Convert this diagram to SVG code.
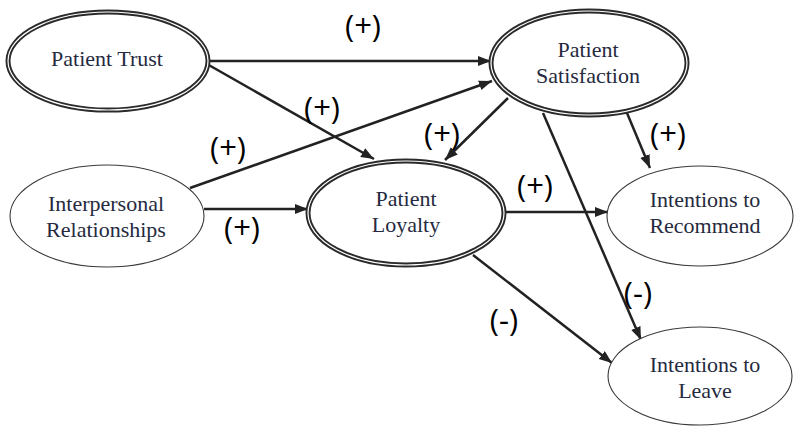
<svg xmlns="http://www.w3.org/2000/svg" width="794" height="427" viewBox="0 0 794 427">
<style>
.bg{fill:#ffffff}
.dbl{fill:#ffffff;stroke:#2a2a2a;stroke-width:5}
.dbl-in{fill:none;stroke:#ffffff;stroke-width:1.2}
.sgl{fill:#ffffff;stroke:#3a3a3a;stroke-width:1.1}
.nt{font-family:"Liberation Serif","Times New Roman",serif;font-size:22px;fill:#252a40;text-anchor:middle}
.conn{stroke:#222222;stroke-width:2.5;fill:none;marker-end:url(#ah)}
.lbl{font-family:"Open Sans","Noto Sans",sans-serif;font-size:31px;fill:#000000;text-anchor:middle}
</style>
<defs>
<marker id="ah" markerUnits="userSpaceOnUse" markerWidth="14" markerHeight="12" refX="13" refY="5" orient="auto">
<path d="M0,0 L13,5 L0,10 z" fill="#222222"/>
</marker>
</defs>
<rect class="bg" x="0" y="0" width="794" height="427"/>
<g id="connectors">
<line class="conn" x1="210" y1="61" x2="491" y2="61"/>
<line class="conn" x1="207" y1="64" x2="374" y2="159"/>
<line class="conn" x1="190" y1="188" x2="492" y2="81"/>
<line class="conn" x1="204" y1="209" x2="308" y2="209"/>
<line class="conn" x1="508" y1="98" x2="445" y2="160"/>
<line class="conn" x1="627" y1="113" x2="650" y2="168"/>
<line class="conn" x1="543" y1="113" x2="641" y2="340"/>
<line class="conn" x1="505" y1="212" x2="608" y2="212"/>
<line class="conn" x1="473" y1="255" x2="612" y2="363"/>
</g>
<g id="patient-trust">
<ellipse class="dbl" cx="108" cy="61" rx="100" ry="49"/>
<ellipse class="dbl-in" cx="108" cy="61" rx="100" ry="49"/>
<text class="nt" x="107" y="66">Patient Trust</text>
</g>
<g id="patient-satisfaction">
<ellipse class="dbl" cx="589" cy="63" rx="98" ry="52"/>
<ellipse class="dbl-in" cx="589" cy="63" rx="98" ry="52"/>
<text class="nt" x="588" y="57">Patient</text>
<text class="nt" x="588" y="83">Satisfaction</text>
</g>
<g id="interpersonal-relationships">
<ellipse class="sgl" cx="107" cy="216" rx="97" ry="51"/>
<text class="nt" x="106" y="211">Interpersonal</text>
<text class="nt" x="106" y="237">Relationships</text>
</g>
<g id="patient-loyalty">
<ellipse class="dbl" cx="406" cy="213" rx="98" ry="52"/>
<ellipse class="dbl-in" cx="406" cy="213" rx="98" ry="52"/>
<text class="nt" x="406" y="206">Patient</text>
<text class="nt" x="406" y="232">Loyalty</text>
</g>
<g id="intentions-recommend">
<ellipse class="sgl" cx="700" cy="216" rx="93" ry="50"/>
<text class="nt" x="705" y="207">Intentions to</text>
<text class="nt" x="705" y="233">Recommend</text>
</g>
<g id="intentions-leave">
<ellipse class="sgl" cx="700" cy="376" rx="92" ry="49"/>
<text class="nt" x="705" y="372">Intentions to</text>
<text class="nt" x="705" y="398">Leave</text>
</g>
<g id="labels">
<text class="lbl" x="363" y="37">(+)</text>
<text class="lbl" x="322" y="119">(+)</text>
<text class="lbl" x="228" y="159">(+)</text>
<text class="lbl" x="242" y="239">(+)</text>
<text class="lbl" x="442" y="145">(+)</text>
<text class="lbl" x="668" y="145">(+)</text>
<text class="lbl" x="535" y="197">(+)</text>
<text class="lbl" x="638" y="304">(-)</text>
<text class="lbl" x="504" y="331">(-)</text>
</g>
</svg>
